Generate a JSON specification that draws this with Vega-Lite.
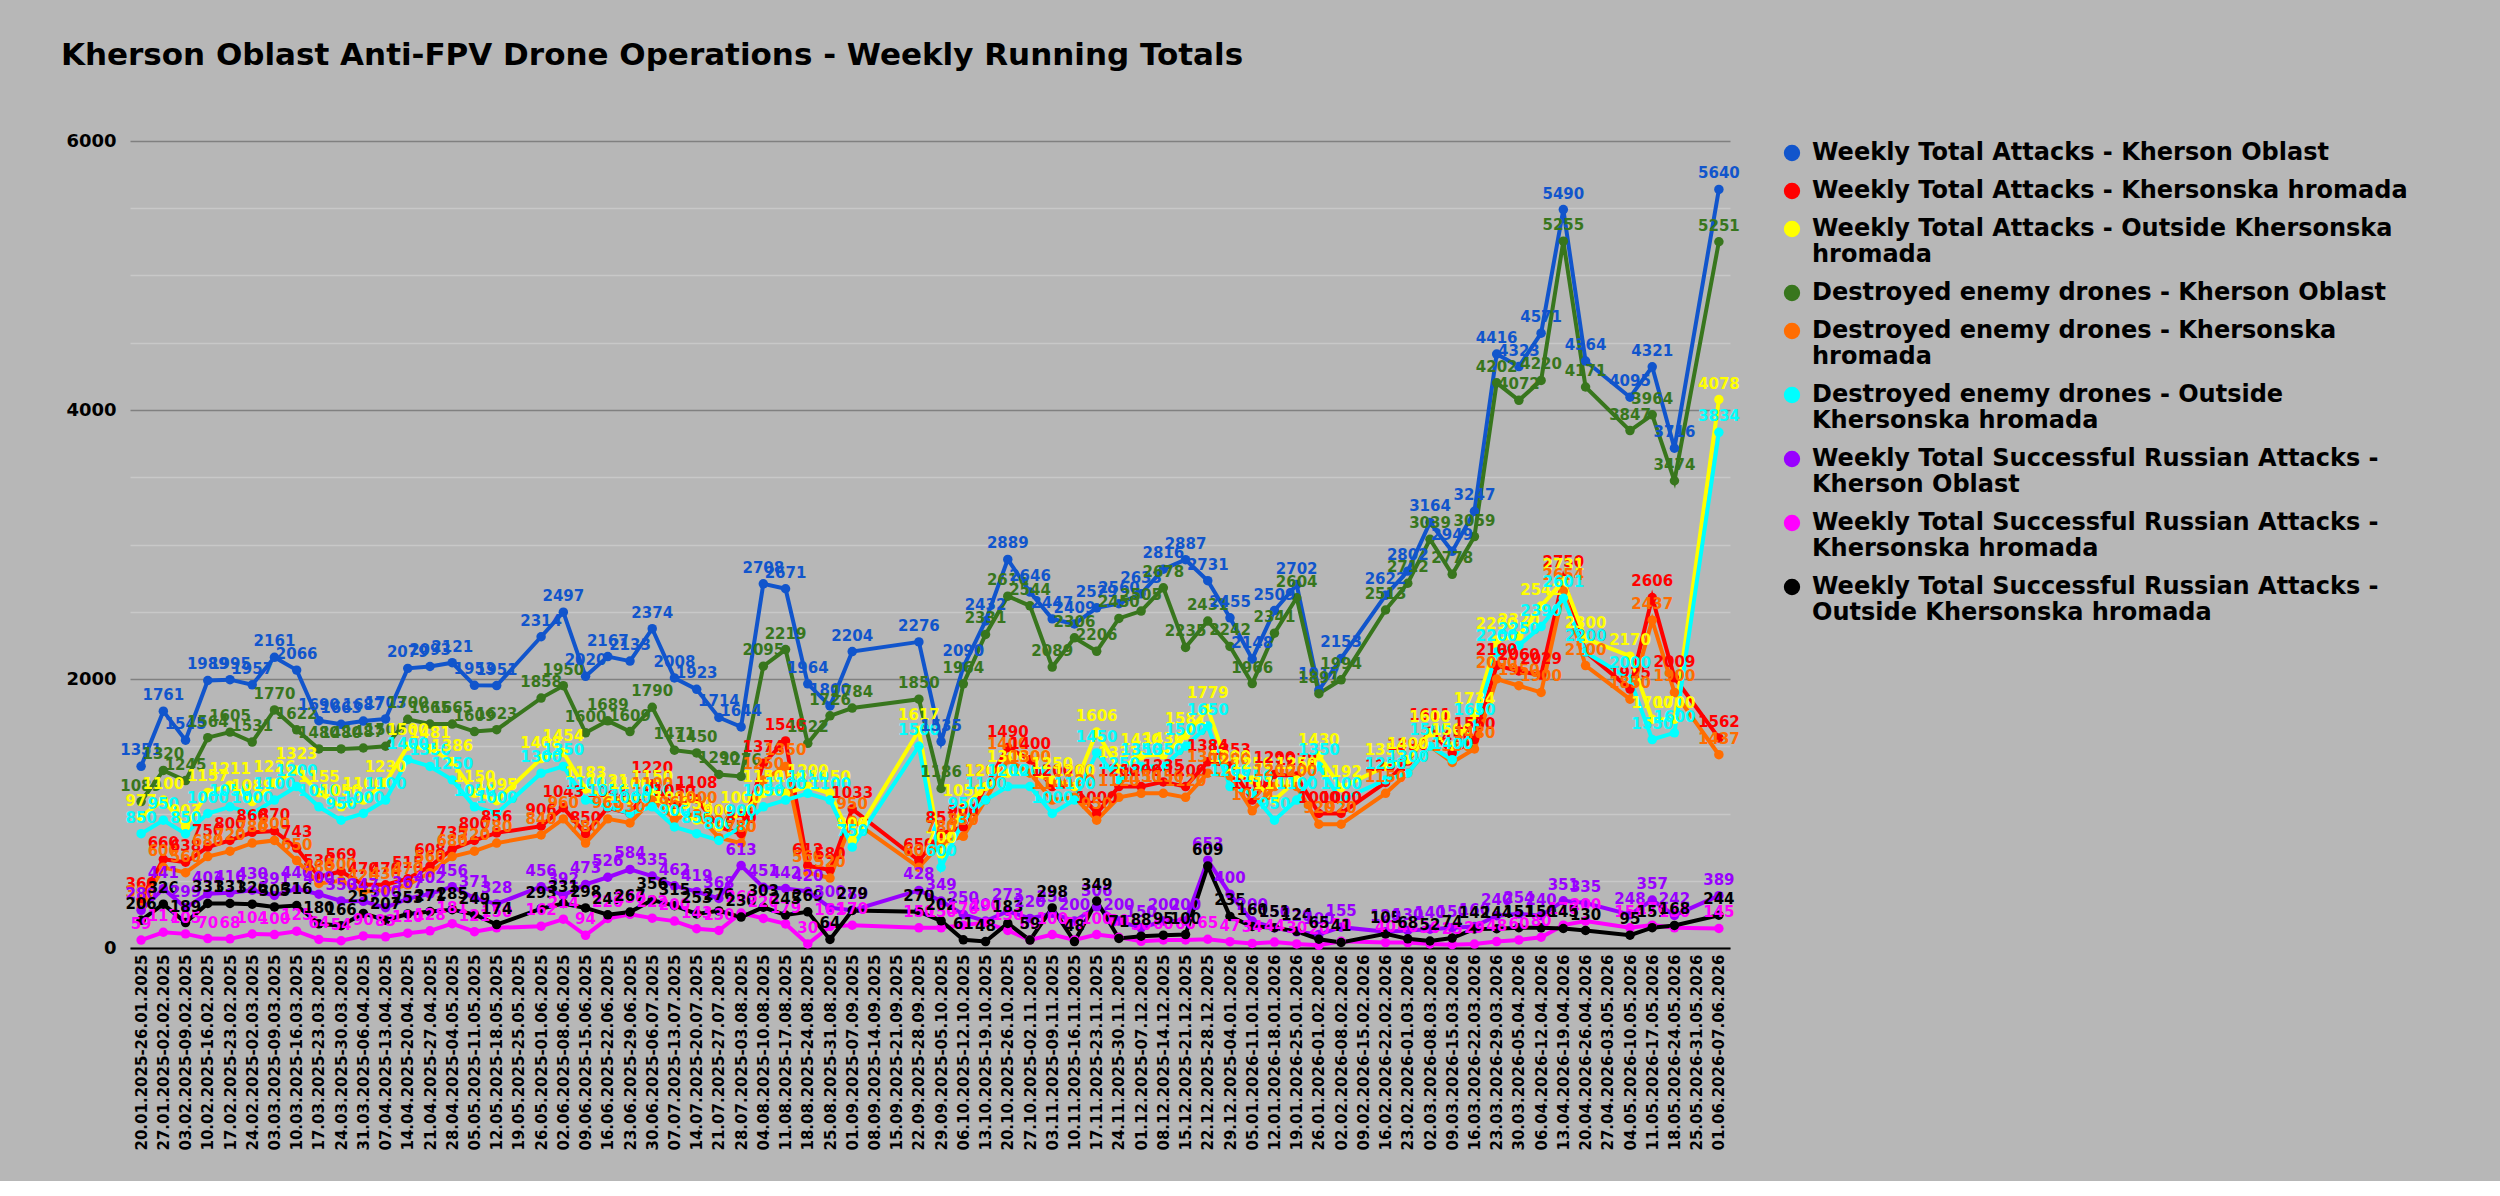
{
"$schema":"https://vega.github.io/schema/vega-lite/v6.json",
"background":"#b7b7b7",
"padding":{"left":60,"top":40,"right":100,"bottom":30},
"width":1600,"height":807,
"title":{"text":"Kherson Oblast Anti-FPV Drone Operations - Weekly Running Totals","anchor":"start","font":"DejaVu Sans","fontSize":31,"fontWeight":900,"color":"#000000","offset":60,"dx":-5},
"config":{"view":{"stroke":null},"font":"DejaVu Sans"},
"data":{"values":[
{"w":"20.01.2025-26.01.2025","B":1351,"R":360,"Y":977,"G":1089,"O":300,"C":850,"P":280,"M":59,"K":206},
{"w":"27.01.2025-02.02.2025","B":1761,"R":660,"Y":1100,"G":1320,"O":600,"C":950,"P":441,"M":117,"K":326},
{"w":"03.02.2025-09.02.2025","B":1545,"R":638,"Y":903,"G":1245,"O":560,"C":850,"P":299,"M":105,"K":189},
{"w":"10.02.2025-16.02.2025","B":1989,"R":750,"Y":1157,"G":1564,"O":680,"C":1000,"P":403,"M":70,"K":331},
{"w":"17.02.2025-23.02.2025","B":1995,"R":800,"Y":1211,"G":1605,"O":720,"C":1050,"P":410,"M":68,"K":331},
{"w":"24.02.2025-02.03.2025","B":1957,"R":860,"Y":1089,"G":1531,"O":780,"C":1000,"P":430,"M":104,"K":326},
{"w":"03.03.2025-09.03.2025","B":2161,"R":870,"Y":1226,"G":1770,"O":800,"C":1100,"P":391,"M":100,"K":305},
{"w":"10.03.2025-16.03.2025","B":2066,"R":743,"Y":1323,"G":1622,"O":650,"C":1200,"P":440,"M":125,"K":316},
{"w":"17.03.2025-23.03.2025","B":1690,"R":530,"Y":1155,"G":1480,"O":480,"C":1050,"P":400,"M":64,"K":180},
{"w":"24.03.2025-30.03.2025","B":1663,"R":569,"Y":1050,"G":1480,"O":500,"C":950,"P":350,"M":54,"K":166},
{"w":"31.03.2025-06.04.2025","B":1687,"R":470,"Y":1100,"G":1487,"O":420,"C":1000,"P":347,"M":90,"K":257},
{"w":"07.04.2025-13.04.2025","B":1703,"R":470,"Y":1230,"G":1500,"O":430,"C":1100,"P":300,"M":83,"K":207},
{"w":"14.04.2025-20.04.2025","B":2079,"R":515,"Y":1500,"G":1700,"O":470,"C":1400,"P":367,"M":110,"K":253},
{"w":"21.04.2025-27.04.2025","B":2093,"R":608,"Y":1481,"G":1665,"O":560,"C":1350,"P":402,"M":128,"K":271},
{"w":"28.04.2025-04.05.2025","B":2121,"R":735,"Y":1386,"G":1665,"O":680,"C":1250,"P":456,"M":181,"K":285},
{"w":"05.05.2025-11.05.2025","B":1953,"R":800,"Y":1150,"G":1609,"O":720,"C":1050,"P":371,"M":121,"K":249},
{"w":"12.05.2025-18.05.2025","B":1951,"R":856,"Y":1095,"G":1623,"O":780,"C":1000,"P":328,"M":150,"K":174},
{"w":"26.05.2025-01.06.2025","B":2314,"R":906,"Y":1408,"G":1858,"O":840,"C":1300,"P":456,"M":162,"K":293},
{"w":"02.06.2025-08.06.2025","B":2497,"R":1043,"Y":1454,"G":1950,"O":960,"C":1350,"P":392,"M":214,"K":331},
{"w":"09.06.2025-15.06.2025","B":2020,"R":850,"Y":1183,"G":1600,"O":780,"C":1100,"P":473,"M":94,"K":298},
{"w":"16.06.2025-22.06.2025","B":2167,"R":1043,"Y":1121,"G":1689,"O":960,"C":1050,"P":526,"M":220,"K":247},
{"w":"23.06.2025-29.06.2025","B":2133,"R":1000,"Y":1100,"G":1609,"O":930,"C":1000,"P":584,"M":250,"K":267},
{"w":"30.06.2025-06.07.2025","B":2374,"R":1220,"Y":1150,"G":1790,"O":1100,"C":1050,"P":535,"M":222,"K":356},
{"w":"07.07.2025-13.07.2025","B":2008,"R":1050,"Y":1000,"G":1471,"O":960,"C":900,"P":462,"M":200,"K":315},
{"w":"14.07.2025-20.07.2025","B":1923,"R":1108,"Y":950,"G":1450,"O":1000,"C":850,"P":419,"M":143,"K":253},
{"w":"21.07.2025-27.07.2025","B":1714,"R":900,"Y":900,"G":1290,"O":820,"C":800,"P":368,"M":130,"K":276},
{"w":"28.07.2025-03.08.2025","B":1644,"R":850,"Y":1000,"G":1276,"O":780,"C":900,"P":613,"M":260,"K":230},
{"w":"04.08.2025-10.08.2025","B":2708,"R":1374,"Y":1150,"G":2095,"O":1250,"C":1050,"P":451,"M":220,"K":303},
{"w":"11.08.2025-17.08.2025","B":2671,"R":1540,"Y":1150,"G":2219,"O":1350,"C":1100,"P":442,"M":179,"K":245},
{"w":"18.08.2025-24.08.2025","B":1964,"R":612,"Y":1200,"G":1522,"O":560,"C":1150,"P":420,"M":30,"K":269},
{"w":"25.08.2025-31.08.2025","B":1800,"R":580,"Y":1150,"G":1726,"O":520,"C":1100,"P":300,"M":161,"K":64},
{"w":"01.09.2025-07.09.2025","B":2204,"R":1033,"Y":800,"G":1784,"O":950,"C":750,"P":280,"M":170,"K":279},
{"w":"22.09.2025-28.09.2025","B":2276,"R":650,"Y":1617,"G":1850,"O":600,"C":1500,"P":428,"M":150,"K":270},
{"w":"29.09.2025-05.10.2025","B":1535,"R":851,"Y":700,"G":1186,"O":780,"C":600,"P":349,"M":150,"K":202},
{"w":"06.10.2025-12.10.2025","B":2090,"R":900,"Y":1050,"G":1964,"O":830,"C":950,"P":250,"M":170,"K":61},
{"w":"13.10.2025-19.10.2025","B":2432,"R":1200,"Y":1200,"G":2331,"O":1100,"C":1100,"P":200,"M":190,"K":48},
{"w":"20.10.2025-26.10.2025","B":2889,"R":1490,"Y":1300,"G":2616,"O":1400,"C":1200,"P":273,"M":130,"K":183},
{"w":"27.10.2025-02.11.2025","B":2646,"R":1400,"Y":1300,"G":2544,"O":1300,"C":1200,"P":220,"M":60,"K":59},
{"w":"03.11.2025-09.11.2025","B":2447,"R":1200,"Y":1250,"G":2089,"O":1100,"C":1000,"P":258,"M":100,"K":298},
{"w":"10.11.2025-16.11.2025","B":2409,"R":1200,"Y":1200,"G":2306,"O":1120,"C":1100,"P":200,"M":60,"K":48},
{"w":"17.11.2025-23.11.2025","B":2529,"R":1000,"Y":1606,"G":2206,"O":950,"C":1450,"P":306,"M":100,"K":349},
{"w":"24.11.2025-30.11.2025","B":2560,"R":1200,"Y":1331,"G":2450,"O":1120,"C":1250,"P":200,"M":80,"K":71},
{"w":"01.12.2025-07.12.2025","B":2633,"R":1200,"Y":1430,"G":2505,"O":1150,"C":1350,"P":150,"M":50,"K":88},
{"w":"08.12.2025-14.12.2025","B":2816,"R":1235,"Y":1436,"G":2678,"O":1150,"C":1350,"P":200,"M":60,"K":95},
{"w":"15.12.2025-21.12.2025","B":2887,"R":1200,"Y":1581,"G":2235,"O":1120,"C":1500,"P":200,"M":60,"K":100},
{"w":"22.12.2025-28.12.2025","B":2731,"R":1384,"Y":1779,"G":2431,"O":1300,"C":1650,"P":653,"M":65,"K":609},
{"w":"29.12.2025-04.01.2026","B":2455,"R":1353,"Y":1300,"G":2242,"O":1280,"C":1200,"P":400,"M":47,"K":235},
{"w":"05.01.2026-11.01.2026","B":2148,"R":1100,"Y":1250,"G":1966,"O":1020,"C":1150,"P":200,"M":34,"K":160},
{"w":"12.01.2026-18.01.2026","B":2509,"R":1290,"Y":1100,"G":2341,"O":1200,"C":950,"P":150,"M":44,"K":151},
{"w":"19.01.2026-25.01.2026","B":2702,"R":1278,"Y":1250,"G":2604,"O":1200,"C":1100,"P":120,"M":30,"K":124},
{"w":"26.01.2026-01.02.2026","B":1917,"R":1000,"Y":1430,"G":1891,"O":920,"C":1350,"P":100,"M":20,"K":65},
{"w":"02.02.2026-08.02.2026","B":2153,"R":1000,"Y":1192,"G":1994,"O":920,"C":1100,"P":155,"M":50,"K":41},
{"w":"16.02.2026-22.02.2026","B":2622,"R":1231,"Y":1350,"G":2513,"O":1150,"C":1250,"P":120,"M":40,"K":105},
{"w":"23.02.2026-01.03.2026","B":2802,"R":1390,"Y":1400,"G":2712,"O":1300,"C":1300,"P":130,"M":40,"K":68},
{"w":"02.03.2026-08.03.2026","B":3164,"R":1611,"Y":1600,"G":3039,"O":1500,"C":1500,"P":140,"M":30,"K":52},
{"w":"09.03.2026-15.03.2026","B":2949,"R":1450,"Y":1500,"G":2778,"O":1380,"C":1400,"P":150,"M":25,"K":74},
{"w":"16.03.2026-22.03.2026","B":3247,"R":1550,"Y":1734,"G":3059,"O":1480,"C":1650,"P":160,"M":29,"K":142},
{"w":"23.03.2026-29.03.2026","B":4416,"R":2100,"Y":2290,"G":4202,"O":2000,"C":2200,"P":240,"M":48,"K":144},
{"w":"30.03.2026-05.04.2026","B":4323,"R":2060,"Y":2320,"G":4072,"O":1950,"C":2250,"P":254,"M":60,"K":151},
{"w":"06.04.2026-12.04.2026","B":4571,"R":2029,"Y":2542,"G":4220,"O":1900,"C":2390,"P":240,"M":80,"K":150},
{"w":"13.04.2026-19.04.2026","B":5490,"R":2750,"Y":2731,"G":5255,"O":2654,"C":2601,"P":351,"M":170,"K":145},
{"w":"20.04.2026-26.04.2026","B":4364,"R":2200,"Y":2300,"G":4171,"O":2100,"C":2200,"P":335,"M":200,"K":130},
{"w":"04.05.2026-10.05.2026","B":4095,"R":1925,"Y":2170,"G":3847,"O":1850,"C":2000,"P":248,"M":150,"K":95},
{"w":"11.05.2026-17.05.2026","B":4321,"R":2606,"Y":1700,"G":3964,"O":2437,"C":1550,"P":357,"M":170,"K":151},
{"w":"18.05.2026-24.05.2026","B":3716,"R":2009,"Y":1700,"G":3474,"O":1900,"C":1600,"P":242,"M":150,"K":168},
{"w":"01.06.2026-07.06.2026","B":5640,"R":1562,"Y":4078,"G":5251,"O":1437,"C":3834,"P":389,"M":145,"K":244}
]},
"transform":[{"fold":["B","R","Y","G","O","C","P","M","K"],"as":["series","value"]}],
"encoding":{
"x":{"field":"w","type":"ordinal","sort":null,"title":null,
"scale":{"type":"point","padding":0.5,"domain":["20.01.2025-26.01.2025","27.01.2025-02.02.2025","03.02.2025-09.02.2025","10.02.2025-16.02.2025","17.02.2025-23.02.2025","24.02.2025-02.03.2025","03.03.2025-09.03.2025","10.03.2025-16.03.2025","17.03.2025-23.03.2025","24.03.2025-30.03.2025","31.03.2025-06.04.2025","07.04.2025-13.04.2025","14.04.2025-20.04.2025","21.04.2025-27.04.2025","28.04.2025-04.05.2025","05.05.2025-11.05.2025","12.05.2025-18.05.2025","19.05.2025-25.05.2025","26.05.2025-01.06.2025","02.06.2025-08.06.2025","09.06.2025-15.06.2025","16.06.2025-22.06.2025","23.06.2025-29.06.2025","30.06.2025-06.07.2025","07.07.2025-13.07.2025","14.07.2025-20.07.2025","21.07.2025-27.07.2025","28.07.2025-03.08.2025","04.08.2025-10.08.2025","11.08.2025-17.08.2025","18.08.2025-24.08.2025","25.08.2025-31.08.2025","01.09.2025-07.09.2025","08.09.2025-14.09.2025","15.09.2025-21.09.2025","22.09.2025-28.09.2025","29.09.2025-05.10.2025","06.10.2025-12.10.2025","13.10.2025-19.10.2025","20.10.2025-26.10.2025","27.10.2025-02.11.2025","03.11.2025-09.11.2025","10.11.2025-16.11.2025","17.11.2025-23.11.2025","24.11.2025-30.11.2025","01.12.2025-07.12.2025","08.12.2025-14.12.2025","15.12.2025-21.12.2025","22.12.2025-28.12.2025","29.12.2025-04.01.2026","05.01.2026-11.01.2026","12.01.2026-18.01.2026","19.01.2026-25.01.2026","26.01.2026-01.02.2026","02.02.2026-08.02.2026","09.02.2026-15.02.2026","16.02.2026-22.02.2026","23.02.2026-01.03.2026","02.03.2026-08.03.2026","09.03.2026-15.03.2026","16.03.2026-22.03.2026","23.03.2026-29.03.2026","30.03.2026-05.04.2026","06.04.2026-12.04.2026","13.04.2026-19.04.2026","20.04.2026-26.04.2026","27.04.2026-03.05.2026","04.05.2026-10.05.2026","11.05.2026-17.05.2026","18.05.2026-24.05.2026","25.05.2026-31.05.2026","01.06.2026-07.06.2026"]},
"axis":{"labelAngle":270,"labelFontSize":15,"labelFontWeight":"bold","labelColor":"#000","labelLimit":400,"domainColor":"#000","domainWidth":2,"ticks":false,"labelPadding":6}},
"y":{"field":"value","type":"quantitative","scale":{"domain":[0,6000],"nice":false},"title":null,
"axis":{"values":[0,500,1000,1500,2000,2500,3000,3500,4000,4500,5000,5500,6000],"labelExpr":"datum.value % 2000 === 0 ? datum.label : ''","format":"d","labelFontSize":18,"labelFontWeight":"bold","labelColor":"#000","domain":false,"ticks":false,"labelPadding":14,
"gridColor":{"condition":{"test":"datum.value % 2000 === 0","value":"#808080"},"value":"#c8c8c8"},"gridWidth":1.5}},
"color":{"field":"series","type":"nominal","sort":null,
"scale":{"domain":["B","R","Y","G","O","C","P","M","K"],"range":["#1155cc","#ff0000","#ffff00","#38761d","#ff6d01","#00ffff","#9900ff","#ff00ff","#000000"]},
"legend":{"title":null,"orient":"right","offset":50,"labelFontSize":24,"labelFontWeight":"bold","labelColor":"#000","labelLimit":800,"symbolType":"circle","symbolSize":220,"rowPadding":14,"labelOffset":8,
"labelExpr":"{'B':'Weekly Total Attacks - Kherson Oblast','R':'Weekly Total Attacks - Khersonska hromada','Y':['Weekly Total Attacks - Outside Khersonska','hromada'],'G':'Destroyed enemy drones - Kherson Oblast','O':['Destroyed enemy drones - Khersonska','hromada'],'C':['Destroyed enemy drones - Outside','Khersonska hromada'],'P':['Weekly Total Successful Russian Attacks -','Kherson Oblast'],'M':['Weekly Total Successful Russian Attacks -','Khersonska hromada'],'K':['Weekly Total Successful Russian Attacks -','Outside Khersonska hromada']}[datum.label]"}}
},
"layer":[
{"mark":{"type":"line","strokeWidth":4,"invalid":"filter"}},
{"mark":{"type":"point","filled":true,"size":90,"opacity":1,"invalid":"filter"}},
{"mark":{"type":"text","dy":-16,"fontSize":15,"fontWeight":"bold","invalid":"filter"},"encoding":{"text":{"field":"value","type":"quantitative","format":"d"}}}
]
}
